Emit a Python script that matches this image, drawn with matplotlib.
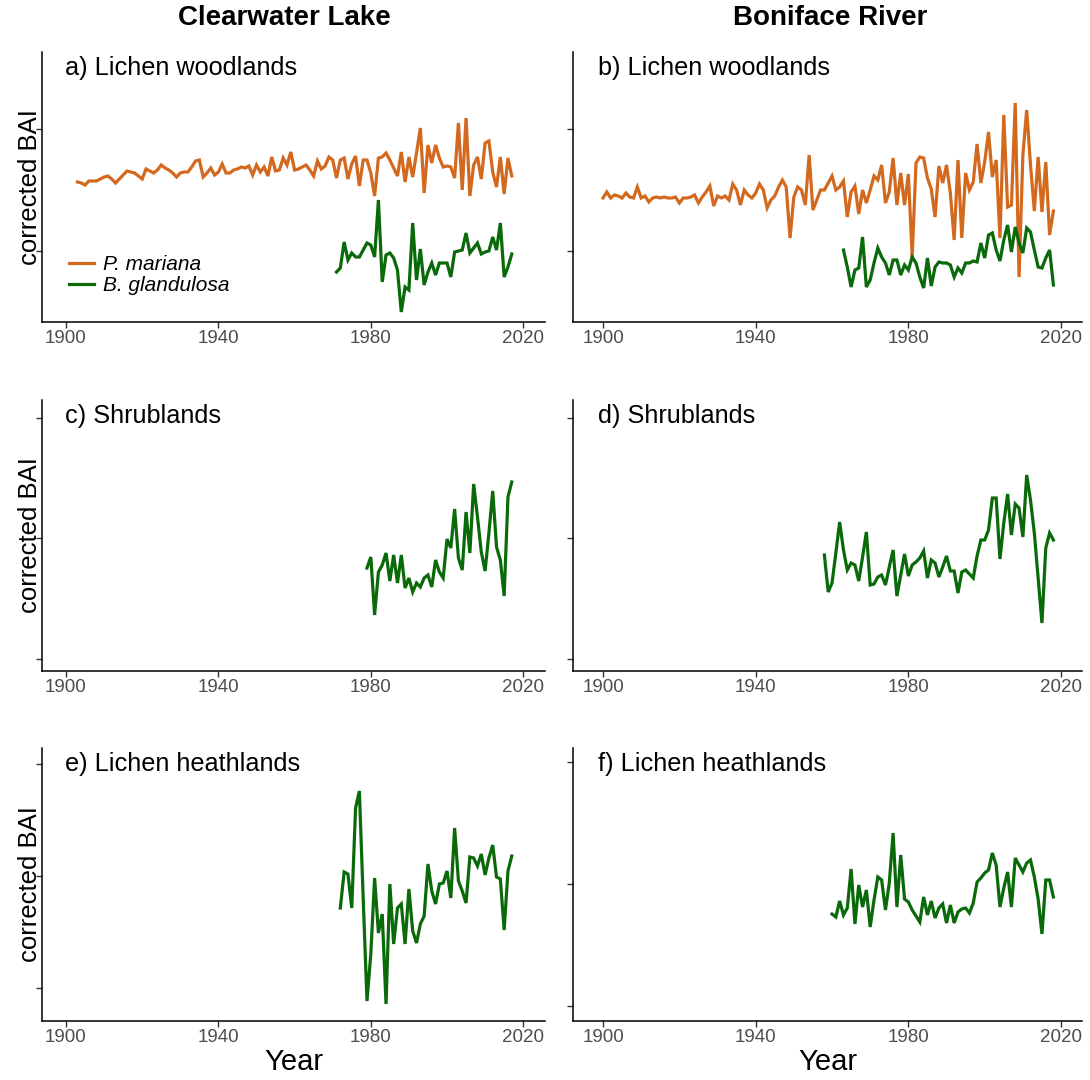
import numpy as np
import matplotlib
matplotlib.use("Agg")
import matplotlib.pyplot as plt
from matplotlib.lines import Line2D

plt.rcParams['font.family'] = ['Liberation Sans', 'DejaVu Sans']

# corrected BAI, arbitrary units (one value per year)
cl_lw_pm_start = 1903
cl_lw_pm = [140, 139, 137, 141, 141, 141, 143, 145, 146, 143, 139, 143, 147, 151, 150,
            149, 146, 143, 153, 151, 149, 152, 157, 154, 152, 149, 145, 149, 150, 150,
            155, 161, 162, 145, 149, 154, 147, 150, 158, 149, 149, 152, 153, 155, 154,
            156, 147, 157, 150, 155, 146, 165, 151, 152, 164, 157, 170, 152, 153, 155,
            157, 152, 146, 161, 153, 156, 165, 162, 144, 162, 164, 143, 158, 166, 136,
            162, 162, 149, 126, 164, 165, 169, 162, 154, 146, 170, 140, 165, 145, 169,
            194, 129, 177, 159, 177, 164, 155, 156, 155, 144, 199, 132, 204, 126, 157,
            165, 143, 179, 181, 150, 135, 165, 128, 164, 146]
cl_lw_bg_start = 1971
cl_lw_bg = [50, 54, 80, 62, 69, 65, 65, 72, 79, 77, 65, 122, 40, 67, 69, 64, 52, 10, 35,
            32, 99, 42, 73, 37, 50, 59, 47, 59, 59, 59, 45, 70, 71, 72, 89, 69, 74, 79,
            68, 70, 71, 85, 72, 99, 45, 55, 68]

br_lw_pm_start = 1900
br_lw_pm = [124, 130, 124, 127, 126, 124, 129, 125, 124, 135, 124, 126, 120, 124, 125,
            124, 125, 124, 124, 125, 119, 124, 124, 125, 127, 119, 125, 130, 136, 116,
            126, 124, 126, 122, 138, 132, 117, 132, 127, 124, 129, 138, 132, 114, 122,
            126, 135, 142, 135, 84, 125, 135, 132, 117, 167, 112, 122, 132, 132, 139,
            146, 132, 135, 141, 105, 130, 136, 108, 132, 119, 132, 146, 142, 157, 119,
            130, 164, 117, 149, 117, 148, 65, 159, 165, 164, 144, 133, 105, 156, 139,
            157, 129, 82, 162, 84, 149, 132, 140, 178, 139, 160, 190, 145, 162, 84,
            207, 115, 117, 219, 45, 167, 212, 157, 111, 165, 110, 160, 87, 111]
br_lw_bg_start = 1963
br_lw_bg = [72, 55, 35, 52, 54, 85, 35, 42, 59, 74, 65, 59, 47, 62, 62, 47, 57, 52, 65,
            59, 45, 34, 64, 36, 55, 60, 59, 59, 57, 45, 54, 49, 59, 59, 61, 60, 79, 64,
            87, 89, 72, 61, 82, 97, 70, 95, 79, 69, 94, 90, 72, 55, 54, 64, 72, 37]

cl_sh_bg_start = 1979
cl_sh_bg = [103, 114, 56, 99, 106, 118, 90, 116, 88, 116, 83, 93, 79, 88, 84, 93, 96,
            84, 111, 99, 93, 132, 123, 162, 113, 101, 159, 118, 187, 154, 119, 100, 138,
            180, 124, 111, 75, 174, 189]
br_sh_bg_start = 1958
br_sh_bg = [116, 79, 88, 118, 149, 121, 101, 108, 106, 90, 114, 139, 86, 87, 94, 96, 86,
            104, 121, 75, 96, 117, 95, 106, 109, 113, 120, 93, 111, 108, 94, 104, 115,
            100, 100, 78, 99, 101, 97, 93, 115, 131, 131, 141, 173, 173, 112, 148, 177,
            136, 167, 163, 134, 196, 171, 138, 93, 48, 123, 138, 131]

cl_lh_bg_start = 1972
cl_lh_bg = [113, 149, 147, 113, 213, 230, 123, 20, 67, 143, 88, 107, 17, 137, 77, 113,
            117, 77, 132, 90, 78, 97, 105, 157, 130, 117, 137, 138, 150, 123, 193, 140,
            130, 118, 164, 163, 155, 167, 146, 163, 176, 144, 142, 91, 150, 165]
br_lh_bg_start = 1960
br_lh_bg = [107, 104, 120, 106, 113, 152, 97, 136, 114, 131, 94, 121, 144, 141, 111, 138,
            188, 114, 166, 122, 119, 111, 105, 99, 124, 106, 120, 103, 113, 117, 98, 116,
            98, 109, 112, 113, 108, 118, 139, 143, 148, 151, 168, 156, 114, 133, 149, 114,
            163, 156, 149, 158, 161, 144, 122, 87, 141, 141, 124]

sites = ["Clearwater Lake", "Boniface River"]
labels = ["a) Lichen woodlands", "b) Lichen woodlands", "c) Shrublands",
          "d) Shrublands", "e) Lichen heathlands", "f) Lichen heathlands"]
species = ["P. mariana", "B. glandulosa"]
ORANGE = "#D2691E"
GREEN = "#0A6A0A"

W, H = 1090, 1080
fig = plt.figure(figsize=(W / 100, H / 100), dpi=100)

# panel boxes in pixels: left, right, x of 1900, px per year
cols = [(42, 545, 66, 3.81), (573, 1082, 603, 3.817)]
rows = [(52, 322), (400, 671), (748, 1021)]
yticks = [[(71, 193), (71, 193)],
          [(12, 133, 253), (12, 133, 253)],
          [(33, 145, 257), (15, 137, 259)]]

panels = [
    [(cl_lw_pm_start, cl_lw_pm, ORANGE), (cl_lw_bg_start, cl_lw_bg, GREEN)],
    [(br_lw_pm_start, br_lw_pm, ORANGE), (br_lw_bg_start, br_lw_bg, GREEN)],
    [(cl_sh_bg_start, cl_sh_bg, GREEN)],
    [(br_sh_bg_start, br_sh_bg, GREEN)],
    [(cl_lh_bg_start, cl_lh_bg, GREEN)],
    [(br_lh_bg_start, br_lh_bg, GREEN)],
]

for r, (top, bot) in enumerate(rows):
    for c, (left, right, x1900, pxy) in enumerate(cols):
        k = r * 2 + c
        ax = fig.add_axes([left / W, 1 - bot / H, (right - left) / W, (bot - top) / H])
        for start, vals, col in panels[k]:
            yrs = np.arange(start, start + len(vals))
            ax.plot(yrs, vals, color=col, lw=2.3, solid_joinstyle='miter')
        ax.set_xlim(1900 - (x1900 - left) / pxy, 1900 + (right - x1900) / pxy)
        ax.set_ylim(0, bot - top)
        ax.set_xticks([1900, 1940, 1980, 2020])
        ax.set_yticks(yticks[r][c])
        ax.set_yticklabels([])
        for s in ["top", "right"]:
            ax.spines[s].set_visible(False)
        for s in ["left", "bottom"]:
            ax.spines[s].set_linewidth(1.1)
        ax.tick_params(axis='both', length=4, width=1.0, color="#333333",
                       labelsize=13.5, labelcolor="#4D4D4D", pad=2)
        ax.text(0.046 if c == 0 else 0.049, 0.985, labels[k], transform=ax.transAxes,
                ha='left', va='top', fontsize=18.2)
        if c == 0:
            ax.set_ylabel("corrected BAI", fontsize=18.5, labelpad=-6)
        if r == 2:
            ax.set_xlabel("Year", fontsize=21, labelpad=1)
        if k == 0:
            handles = [Line2D([], [], color=ORANGE, lw=2.3),
                       Line2D([], [], color=GREEN, lw=2.3)]
            leg = ax.legend(handles, species, loc='lower left',
                            bbox_to_anchor=(0.024, 0.045), frameon=False,
                            fontsize=15, handlelength=1.2, handletextpad=0.45,
                            labelspacing=0.1, borderaxespad=0.3)
            for t in leg.get_texts():
                t.set_fontstyle('italic')

fig.text(284 / W, 1 - 18 / H, sites[0], ha='center', va='center',
         fontsize=20, fontweight='bold')
fig.text(830 / W, 1 - 18 / H, sites[1], ha='center', va='center',
         fontsize=20, fontweight='bold')

fig.savefig("out.png", dpi=100)
